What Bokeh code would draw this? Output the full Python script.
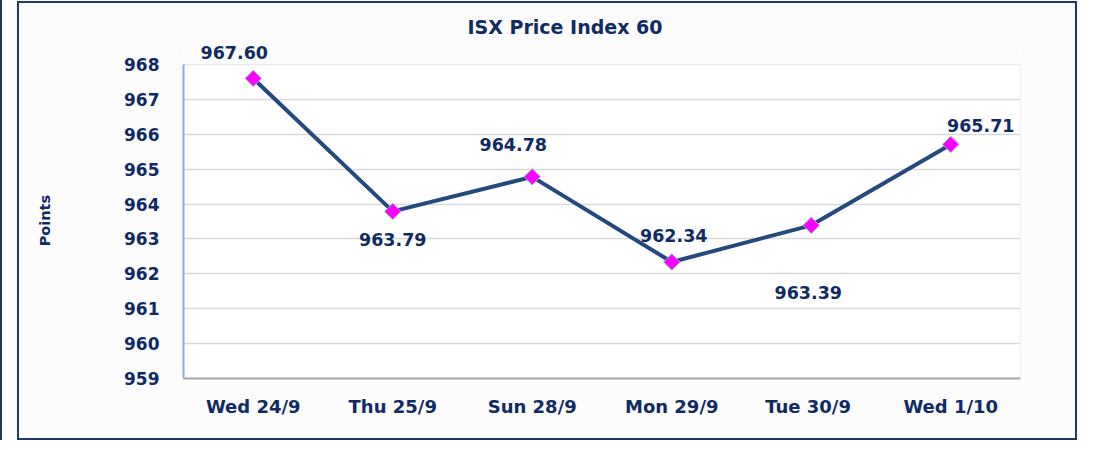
import numpy as np
from bokeh.plotting import figure
from bokeh.models import (ColumnDataSource, FactorRange, Range1d, LabelSet, FixedTicker,
                          InlineStyleSheet, BoxAnnotation)
from bokeh.core.properties import value
from bokeh.embed import file_html
from bokeh.resources import INLINE

# ---- data ----
days = ["Wed 24/9", "Thu 25/9", "Sun 28/9", "Mon 29/9", "Tue  30/9", "Wed 1/10"]
index_values = [967.60, 963.79, 964.78, 962.34, 963.39, 965.71]
value_labels = ["967.60", "963.79", "964.78", "962.34", "963.39", "965.71"]
y_ticks = [959, 960, 961, 962, 963, 964, 965, 966, 967, 968]
y_min, y_max = 959, 968
title_text = "ISX Price Index 60"
y_label = "Points"

# label offsets in pixels (style; positive dy = up)
lbl_dx = [-19, 0, -19, 2, -3, 30]
lbl_dy = [26, -28, 32, 26, -67, 19]

NAVY = "#102A63"
FONT = "DejaVu Sans"
BG = "#FCFCFC"

src = ColumnDataSource(dict(x=days, y=index_values, t=value_labels, dx=lbl_dx, dy=lbl_dy))

# frame spans 959..968 over 314 px; extra headroom above 968 keeps the top label visible
px_per_unit = 314 / (y_max - y_min)
head_px = 22
p = figure(width=1077, height=440, x_range=FactorRange(*days),
           y_range=Range1d(y_min, y_max + head_px / px_per_unit),
           output_backend="svg", toolbar_location=None,
           min_border_left=183, min_border_right=57, min_border_top=64 - head_px,
           min_border_bottom=62)
p.background_fill_color = "#FFFFFF"
p.border_fill_color = BG
p.outline_line_color = None

# headroom painted like the surrounding background
p.add_layout(BoxAnnotation(bottom=y_max, fill_color=BG, fill_alpha=1, line_color=None,
                           level="underlay"))
# faint right edge of the plot area
p.segment(x0=[len(days)], x1=[len(days)], y0=[y_min], y1=[y_max], line_color="#E8E8E8",
          line_width=1.5)

p.line("x", "y", source=src, line_color="#24497E", line_width=4)
p.scatter("x", "y", source=src, marker="square", angle=np.pi / 4, size=11.5,
          fill_color="#FF00FF", line_color="#8FAADC", line_width=1)
p.add_layout(LabelSet(x="x", y="y", text="t", source=src, x_offset="dx", y_offset="dy",
                      text_font=value(FONT), text_font_style="bold", text_font_size="17.5px",
                      text_color=NAVY, text_align="center", text_baseline="middle"))

# axes
p.yaxis.ticker = FixedTicker(ticks=y_ticks)
p.yaxis.bounds = (y_min, y_max)
p.yaxis.axis_line_color = "#8FAADC"
p.yaxis.axis_line_width = 2
p.xaxis.axis_line_color = "#A6A6A6"
p.xaxis.axis_line_width = 2
for ax in (p.xaxis, p.yaxis):
    ax.major_tick_line_color = None
    ax.minor_tick_line_color = None
    ax.major_label_text_font = FONT
    ax.major_label_text_font_style = "bold"
    ax.major_label_text_color = NAVY
p.yaxis.major_label_text_font_size = "17px"
p.xaxis.major_label_text_font_size = "18px"
p.yaxis.major_label_standoff = 18
p.xaxis.major_label_standoff = 11
# trailing no-break spaces re-centre the rotated label on the 959..968 span
p.yaxis.axis_label = y_label + "\u00a0" * 4
p.yaxis.axis_label_text_font = FONT
p.yaxis.axis_label_text_font_style = "bold"
p.yaxis.axis_label_text_font_size = "14.5px"
p.yaxis.axis_label_text_color = NAVY
p.yaxis.axis_label_standoff = 68

p.xgrid.grid_line_color = None
p.ygrid.grid_line_color = "#D9D9D9"
p.ygrid.grid_line_width = 1.5

# title
p.title.text = title_text
p.title.align = "left"
p.title.offset = 281
p.title.text_font = FONT
p.title.text_font_style = "bold"
p.title.text_font_size = "19px"
p.title.text_color = NAVY
p.title.standoff = 4
p.title.padding = 3

# outer border (drawn with CSS on top of the canvas)
p.stylesheets = [InlineStyleSheet(css="""
:host { position: relative; }
:host::after {
  content: ''; position: absolute; left: 17px; top: 1px; width: 1060px; height: 439px;
  box-sizing: border-box; border: 2px solid #1F3864; pointer-events: none; z-index: 10;
}
:host::before {
  content: ''; position: absolute; left: 0px; top: 0px; width: 2px; height: 440px;
  background: #1F3864; pointer-events: none; z-index: 10;
}
""")]

open("out.html", "w").write(file_html(p, INLINE))
